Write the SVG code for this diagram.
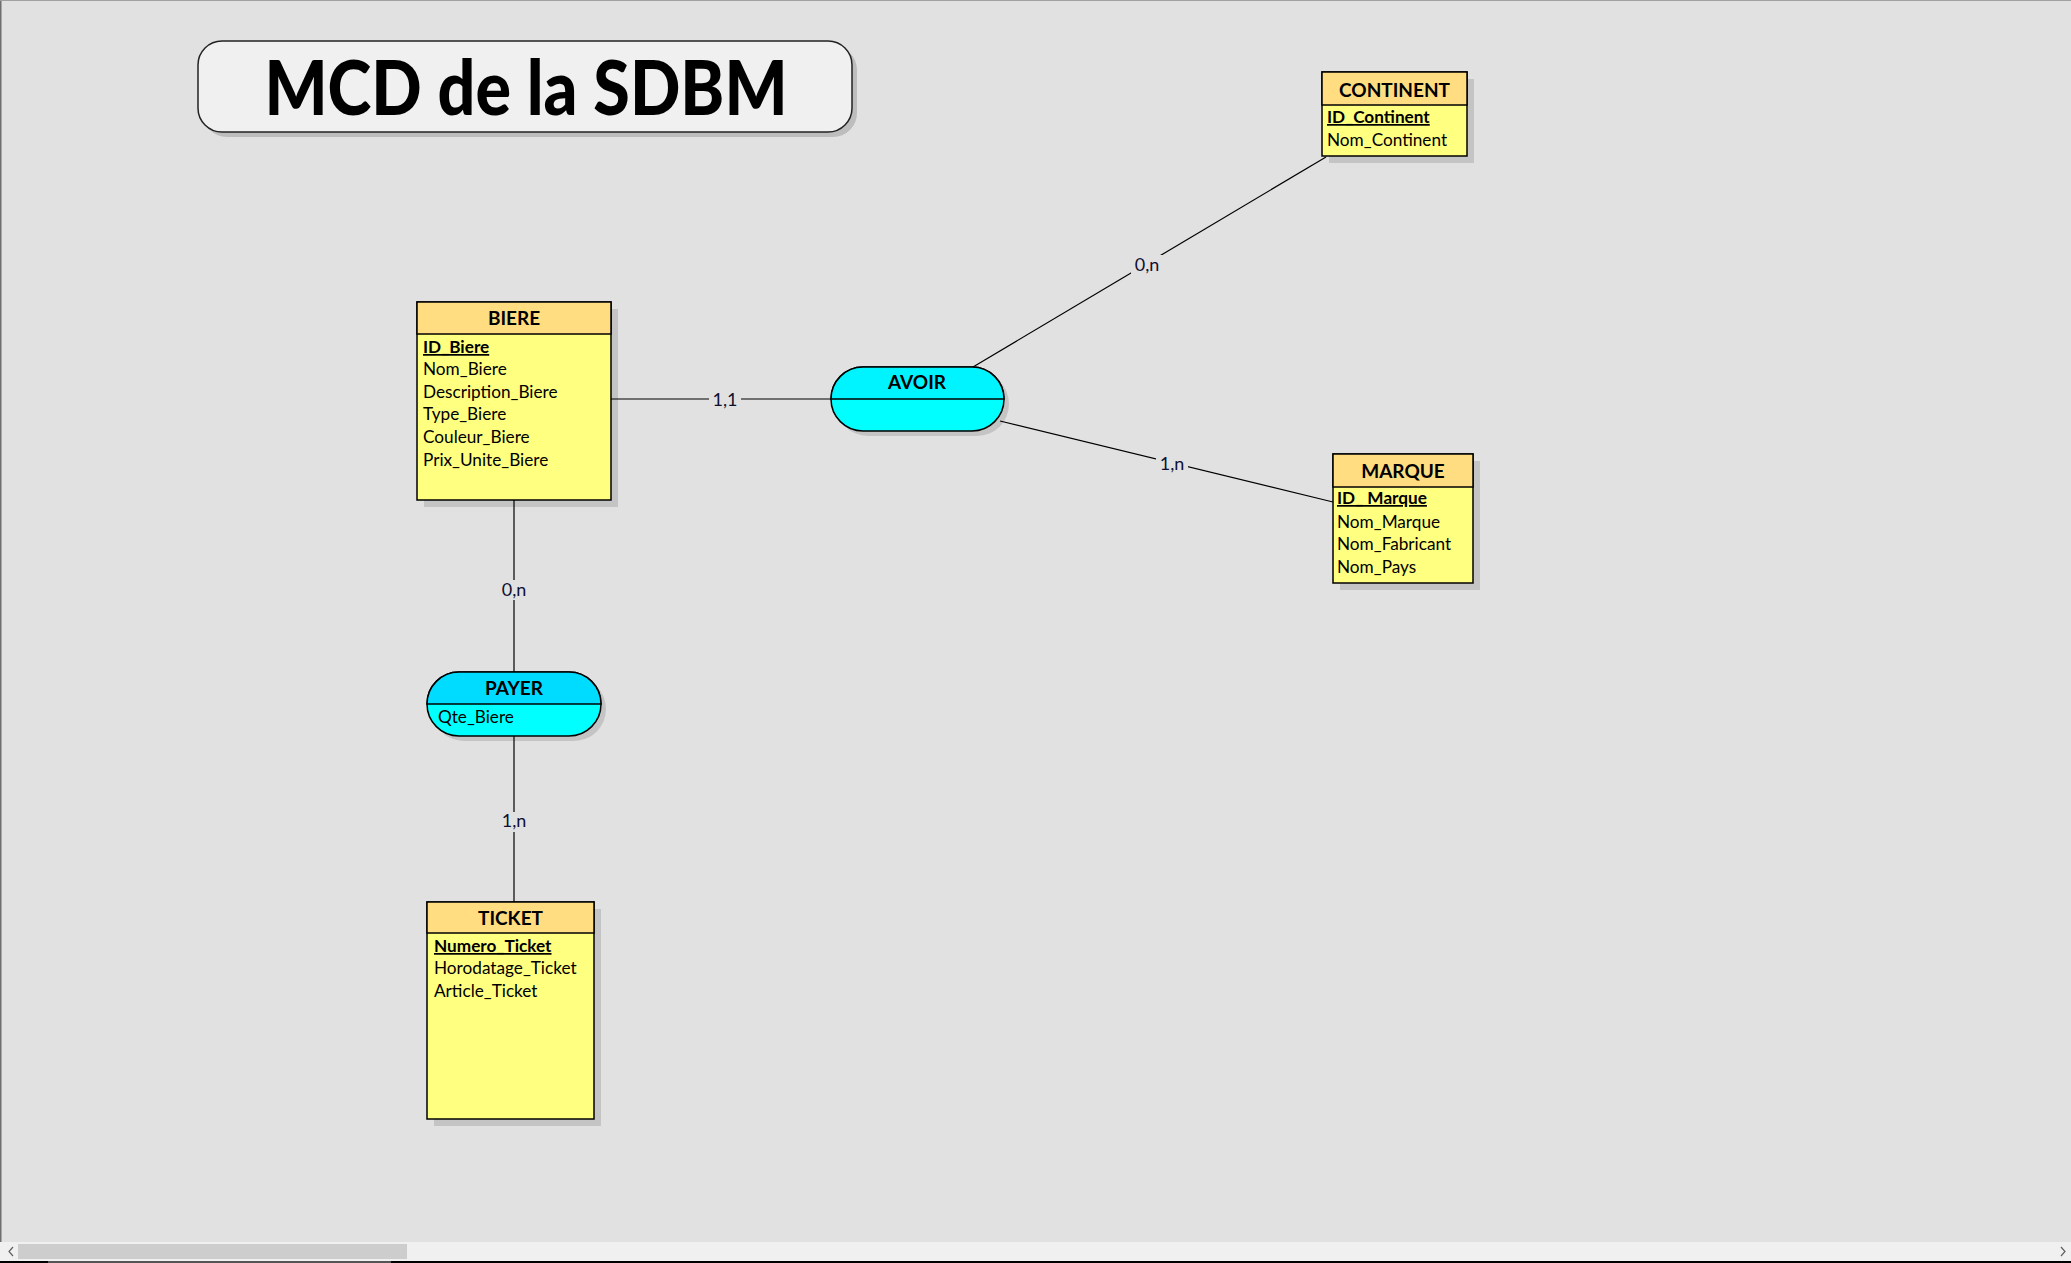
<svg xmlns="http://www.w3.org/2000/svg" width="2071" height="1263" viewBox="0 0 2071 1263">
<style>
.ent{fill:#ffff80;stroke:#000;stroke-width:1.5}
.hdr{fill:#ffdd80;stroke:#000;stroke-width:1.5}
.shd{fill:#c4c4c4}
.asc{fill:#00ffff;stroke:#000;stroke-width:1.5}
.ht{font-family:Lato,"Liberation Sans",sans-serif;font-weight:700;font-size:19px;fill:#000;text-anchor:middle}
.at{font-family:Lato,"Liberation Sans",sans-serif;font-size:17.2px;fill:#000}
.key{font-weight:700;text-decoration:underline}
.lnk{stroke:#000;stroke-width:1.2;fill:none}
.lbl{font-family:Lato,"Liberation Sans",sans-serif;font-size:18px;fill:#101030;text-anchor:middle}
.lbg{fill:#e1e1e1}
</style>
<rect x="0" y="0" width="2071" height="1263" fill="#e1e1e1"/>
<line x1="0.5" y1="0" x2="0.5" y2="1242" stroke="#6e6e6e" stroke-width="2"/>
<line x1="0" y1="0.5" x2="2071" y2="0.5" stroke="#a0a0a0" stroke-width="1"/>

<g id="title">
<rect x="203" y="46" width="654" height="91" rx="24" fill="#bdbdbd"/>
<rect x="198" y="41" width="654" height="91" rx="24" fill="#f0f0f0" stroke="#222" stroke-width="1.5"/>
<text x="526" y="115" font-family="Lato,'Liberation Sans',sans-serif" font-weight="900" font-size="76" text-anchor="middle" textLength="523" lengthAdjust="spacingAndGlyphs" fill="#000">MCD de la SDBM</text>
</g>

<g id="BIERE">
<rect class="shd" x="424" y="309" width="194" height="198"/>
<rect class="ent" x="417" y="302" width="194" height="198"/>
<rect class="hdr" x="417" y="302" width="194" height="32"/>
<text class="ht" x="514" y="325">BIERE</text>
<text class="at key" x="423" y="353">ID_Biere</text>
<text class="at" x="423" y="375">Nom_Biere</text>
<text class="at" x="423" y="398">Description_Biere</text>
<text class="at" x="423" y="420">Type_Biere</text>
<text class="at" x="423" y="443">Couleur_Biere</text>
<text class="at" x="423" y="466">Prix_Unite_Biere</text>
</g>

<g id="CONTINENT">
<rect class="shd" x="1329" y="79" width="145" height="84"/>
<rect class="ent" x="1322" y="72" width="145" height="84"/>
<rect class="hdr" x="1322" y="72" width="145" height="33"/>
<text class="ht" x="1394.5" y="97">CONTINENT</text>
<text class="at key" x="1327" y="123">ID_Continent</text>
<text class="at" x="1327" y="146">Nom_Continent</text>
</g>

<g id="MARQUE">
<rect class="shd" x="1340" y="461" width="140" height="129"/>
<rect class="ent" x="1333" y="454" width="140" height="129"/>
<rect class="hdr" x="1333" y="454" width="140" height="33"/>
<text class="ht" x="1403" y="478">MARQUE</text>
<text class="at key" x="1337" y="504">ID_ Marque</text>
<text class="at" x="1337" y="528">Nom_Marque</text>
<text class="at" x="1337" y="550">Nom_Fabricant</text>
<text class="at" x="1337" y="573">Nom_Pays</text>
</g>

<g id="TICKET">
<rect class="shd" x="434" y="909" width="167" height="217"/>
<rect class="ent" x="427" y="902" width="167" height="217"/>
<rect class="hdr" x="427" y="902" width="167" height="31"/>
<text class="ht" x="510.5" y="925">TICKET</text>
<text class="at key" x="434" y="952">Numero_Ticket</text>
<text class="at" x="434" y="974">Horodatage_Ticket</text>
<text class="at" x="434" y="997">Article_Ticket</text>
</g>

<g id="AVOIR">
<rect x="836" y="372" width="173" height="64" rx="32" class="shd"/>
<rect x="831" y="367" width="173" height="64" rx="32" class="asc"/>
<path d="M831 399 A32 32 0 0 1 863 367 L972 367 A32 32 0 0 1 1004 399 Z" fill="#00f4ff" stroke="#000" stroke-width="1.5"/>
<text class="ht" x="917" y="389">AVOIR</text>
</g>

<g id="PAYER">
<rect x="432" y="677" width="174" height="64" rx="32" class="shd"/>
<rect x="427" y="672" width="174" height="64" rx="32" class="asc"/>
<path d="M427 704 A32 32 0 0 1 459 672 L569 672 A32 32 0 0 1 601 704 Z" fill="#00dcff" stroke="#000" stroke-width="1.5"/>
<text class="ht" x="514" y="695">PAYER</text>
<text class="at" x="438" y="723">Qte_Biere</text>
</g>

<g id="connectors">
<line class="lnk" x1="611" y1="399" x2="831" y2="399"/>
<line class="lnk" x1="973" y1="367" x2="1326" y2="157"/>
<line class="lnk" x1="1000" y1="421" x2="1333" y2="502"/>
<line class="lnk" x1="514" y1="500" x2="514" y2="672"/>
<line class="lnk" x1="514" y1="736" x2="514" y2="902"/>
<rect class="lbg" x="709" y="390" width="32" height="19"/>
<text class="lbl" x="725" y="406">1,1</text>
<rect class="lbg" x="1131" y="255" width="33" height="19"/>
<text class="lbl" x="1147" y="271">0,n</text>
<rect class="lbg" x="1156" y="454" width="32" height="19"/>
<text class="lbl" x="1172" y="470">1,n</text>
<rect class="lbg" x="498" y="580" width="33" height="20"/>
<text class="lbl" x="514" y="596">0,n</text>
<rect class="lbg" x="498" y="812" width="33" height="20"/>
<text class="lbl" x="514" y="827">1,n</text>
</g>

<g id="scrollbar">
<rect x="0" y="1242" width="2071" height="21" fill="#f0f0f0"/>
<rect x="18" y="1244" width="389" height="15" fill="#cdcdcd"/>
<polyline points="13,1247 9,1251.5 13,1256" fill="none" stroke="#606060" stroke-width="1.2"/>
<polyline points="2061,1247 2065,1251.5 2061,1256" fill="none" stroke="#606060" stroke-width="1.2"/>
<rect x="0" y="1261" width="2071" height="2" fill="#000"/>
<rect x="48" y="1261" width="343" height="2" fill="#555"/>
</g>
</svg>
